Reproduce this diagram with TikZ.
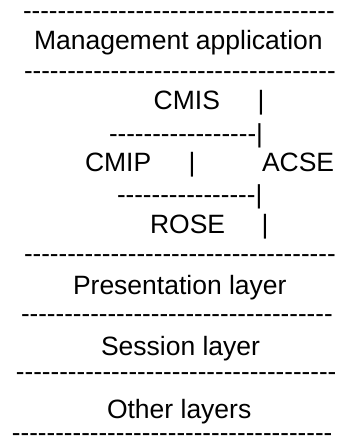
\documentclass[tikz,border=0pt]{standalone}
\usepackage{fontspec}
\setmainfont[Ligatures=TeXOff]{Liberation Sans}
\begin{document}
\begin{tikzpicture}[x=1pt,y=-1pt,
  txt/.style={anchor=base west,inner sep=0pt,outer sep=0pt,font=\fontsize{26.5}{30}\selectfont},
  dsh/.style={anchor=base west,inner sep=0pt,outer sep=0pt,font=\fontsize{26}{30}\selectfont},
  bar/.style={anchor=base,inner sep=0pt,outer sep=0pt,font=\fontsize{26.5}{30}\selectfont}]
\useasboundingbox (0,0) rectangle (338,441);
\node[dsh] (d1) at (23,20) {------------------------------------};
\node[txt] (mgmt) at (34,50) {Management application};
\node[dsh] (d2) at (24,80) {------------------------------------};
\node[txt] (cmis) at (153.7,110) {CMIS};
\node[bar] (b1) at (261,110) {|};
\node[dsh] (d3) at (109,142) {-----------------|};
\node[txt] (cmip) at (85,171) {CMIP};
\node[bar] (b2) at (192,171) {|};
\node[txt] (acse) at (262,171) {ACSE};
\node[dsh] (d4) at (117,203) {----------------|};
\node[txt] (rose) at (150,233) {ROSE};
\node[bar] (b3) at (265,233) {|};
\node[dsh] (d5) at (24,262) {------------------------------------};
\node[txt] (pres) at (73,294) {Presentation layer};
\node[dsh] (d6) at (21,322) {------------------------------------};
\node[txt] (sess) at (101,355) {Session layer};
\node[dsh] (d7) at (16,380) {-------------------------------------};
\node[txt] (other) at (107,418) {Other layers};
\node[dsh] (d8) at (12,441) {-------------------------------------};
\end{tikzpicture}
\end{document}
